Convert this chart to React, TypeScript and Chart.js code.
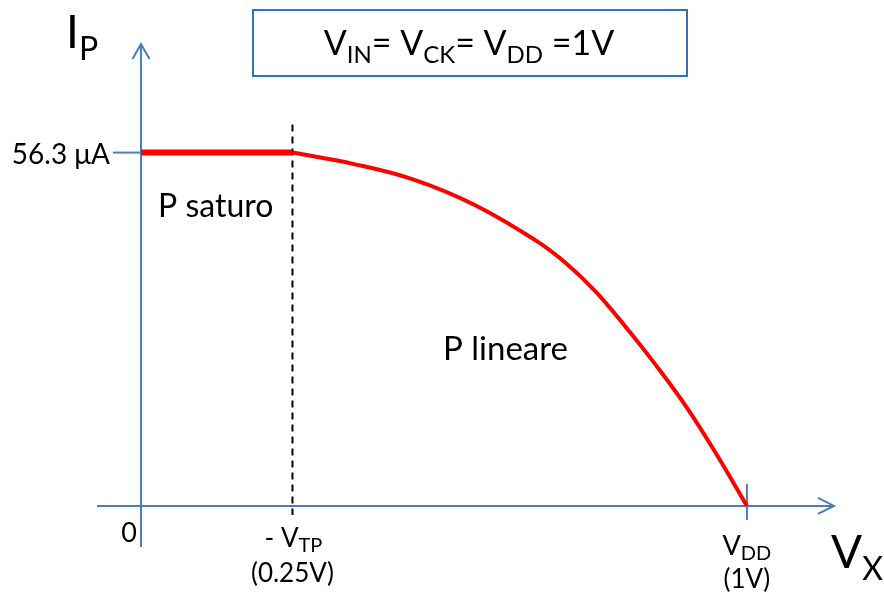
import React, { useEffect, useRef } from "react";
import { Chart, registerables } from "chart.js";

Chart.register(...registerables);

// ---- data ----
const saturationVx = [0, 0.25];
const saturationIp = [56.3, 56.3];
const linearVx = [0.25, 0.35, 0.45, 0.55, 0.65, 0.7, 0.75, 0.8, 0.85, 0.9, 0.95, 1.0];
const linearIp = [56.3, 54.5, 52.0, 48.0, 42.4, 38.8, 34.2, 28.5, 22.4, 15.8, 8.2, 0];
const vtpValue = 0.25;
const vddValue = 1;
const iSatValue = 56.3;
const iSatLabel = "56.3 μA";
const zeroLabel = "0";
const vtpLabelTop = [{ t: "- V" }, { t: "TP", sub: true }];
const vtpLabelBottom = "(0.25V)";
const vddLabelTop = [{ t: "V" }, { t: "DD", sub: true }];
const vddLabelBottom = "(1V)";
const regionSat = "P saturo";
const regionLin = "P lineare";
const titleParts = [
  { t: "V" }, { t: "IN", sub: true }, { t: "= V" }, { t: "CK", sub: true },
  { t: "= V" }, { t: "DD", sub: true }, { t: " =1V" },
];

const FONT = "Lato, 'Open Sans', sans-serif";
const AXIS_BLUE = "#4A7EBB";
const BOX_BLUE = "#2E75B6";

type Part = { t: string; sub?: boolean };

function drawRich(
  ctx: CanvasRenderingContext2D,
  parts: Part[],
  x: number,
  y: number,
  align: "left" | "center" | "right",
  size: number,
  subSize: number,
  subDy: number
) {
  const widths = parts.map((p) => {
    ctx.font = `${p.sub ? subSize : size}px ${FONT}`;
    return ctx.measureText(p.t).width;
  });
  const total = widths.reduce((a, b) => a + b, 0);
  let cx = align === "center" ? x - total / 2 : align === "right" ? x - total : x;
  ctx.textAlign = "left";
  ctx.textBaseline = "alphabetic";
  parts.forEach((p, i) => {
    ctx.font = `${p.sub ? subSize : size}px ${FONT}`;
    ctx.fillText(p.t, cx, p.sub ? y + subDy : y);
    cx += widths[i];
  });
}

const decorPlugin = {
  id: "decor",
  beforeDatasetsDraw(chart: any) {
    const ctx: CanvasRenderingContext2D = chart.ctx;
    const xs = chart.scales.x;
    const ys = chart.scales.y;
    const x0 = xs.getPixelForValue(0);
    const y0 = ys.getPixelForValue(0);
    const xL = xs.left;
    const xR = xs.right;
    const yT = ys.top;
    const yB = ys.bottom;
    ctx.save();
    ctx.strokeStyle = AXIS_BLUE;
    ctx.lineWidth = 2;
    ctx.lineCap = "butt";
    // x axis
    ctx.beginPath();
    ctx.moveTo(xL, y0);
    ctx.lineTo(xR, y0);
    ctx.stroke();
    ctx.beginPath();
    ctx.moveTo(xR - 16, y0 - 8);
    ctx.lineTo(xR, y0);
    ctx.lineTo(xR - 16, y0 + 8);
    ctx.stroke();
    // y axis
    ctx.beginPath();
    ctx.moveTo(x0, yB);
    ctx.lineTo(x0, yT);
    ctx.stroke();
    ctx.beginPath();
    ctx.moveTo(x0 - 8.5, yT + 15);
    ctx.lineTo(x0, yT);
    ctx.lineTo(x0 + 8.5, yT + 15);
    ctx.stroke();
    // y tick at Isat
    const yS = ys.getPixelForValue(iSatValue);
    ctx.beginPath();
    ctx.moveTo(x0 - 28, yS);
    ctx.lineTo(x0, yS);
    ctx.stroke();
    // x tick at VDD
    const xD = xs.getPixelForValue(vddValue);
    ctx.beginPath();
    ctx.moveTo(xD, y0 - 22);
    ctx.lineTo(xD, y0 + 14);
    ctx.stroke();
    // dashed -VTP line
    const xV = xs.getPixelForValue(vtpValue);
    ctx.strokeStyle = "#000";
    ctx.lineWidth = 2;
    ctx.setLineDash([7, 5]);
    ctx.beginPath();
    ctx.moveTo(xV, yS - 28);
    ctx.lineTo(xV, y0 + 9);
    ctx.stroke();
    ctx.setLineDash([]);
    ctx.restore();
  },
  afterDatasetsDraw(chart: any) {
    const ctx: CanvasRenderingContext2D = chart.ctx;
    const xs = chart.scales.x;
    const ys = chart.scales.y;
    const x0 = xs.getPixelForValue(0);
    const y0 = ys.getPixelForValue(0);
    const yS = ys.getPixelForValue(iSatValue);
    const xV = xs.getPixelForValue(vtpValue);
    const xD = xs.getPixelForValue(vddValue);
    ctx.save();
    ctx.fillStyle = "#000";
    // axis titles
    drawRich(ctx, [{ t: "I" }, { t: "P", sub: true }], 66, 48, "left", 46, 32, 12);
    drawRich(ctx, [{ t: "V" }, { t: "X", sub: true }], xs.right - 3, 568, "left", 46, 32, 12);
    // y tick label
    drawRich(ctx, [{ t: iSatLabel }], x0 - 31, yS + 11, "right", 28, 28, 0);
    // x tick labels
    drawRich(ctx, [{ t: zeroLabel }], x0 - 4, y0 + 36, "right", 27, 27, 0);
    drawRich(ctx, vtpLabelTop, xV + 1, y0 + 41, "center", 26, 20, 5);
    drawRich(ctx, [{ t: vtpLabelBottom }], xV, y0 + 76, "center", 26, 26, 0);
    drawRich(ctx, vddLabelTop, xD, y0 + 49, "center", 27, 20, 5);
    drawRich(ctx, [{ t: vddLabelBottom }], xD, y0 + 82, "center", 26, 26, 0);
    // region labels
    drawRich(ctx, [{ t: regionSat }], 158, 217, "left", 32, 32, 0);
    drawRich(ctx, [{ t: regionLin }], 443, 360, "left", 33, 33, 0);
    // title box
    ctx.strokeStyle = BOX_BLUE;
    ctx.lineWidth = 2;
    ctx.strokeRect(253, 10, 434, 66);
    drawRich(ctx, titleParts, 469, 55, "center", 34, 24, 8);
    ctx.restore();
  },
};

export default function App() {
  const ref = useRef<HTMLCanvasElement | null>(null);
  useEffect(() => {
    if (!ref.current) return;
    const chart = new Chart(ref.current, {
      type: "line",
      data: {
        datasets: [
          {
            data: saturationVx.map((v, i) => ({ x: v, y: saturationIp[i] })),
            borderColor: "#FF0000",
            borderWidth: 6,
            pointRadius: 0,
            tension: 0,
            clip: false as any,
          },
          {
            data: linearVx.map((v, i) => ({ x: v, y: linearIp[i] })),
            borderColor: "#FF0000",
            borderWidth: 4,
            pointRadius: 0,
            tension: 0.4,
            clip: false as any,
          },
        ],
      },
      options: {
        animation: false,
        responsive: false,
        layout: { padding: { left: 97, right: 50, top: 44, bottom: 51 } },
        plugins: { legend: { display: false }, tooltip: { enabled: false }, title: { display: false } },
        scales: {
          x: { type: "linear", min: -0.0726, max: 1.1437, display: false },
          y: { type: "linear", min: -6.54, max: 73.6, display: false },
        },
      },
      plugins: [decorPlugin],
    });
    return () => chart.destroy();
  }, []);
  return (
    <div style={{ position: "absolute", left: 0, top: 0, width: 884, height: 598, background: "#fff" }}>
      <canvas ref={ref} width={884} height={598} style={{ display: "block" }} />
    </div>
  );
}
